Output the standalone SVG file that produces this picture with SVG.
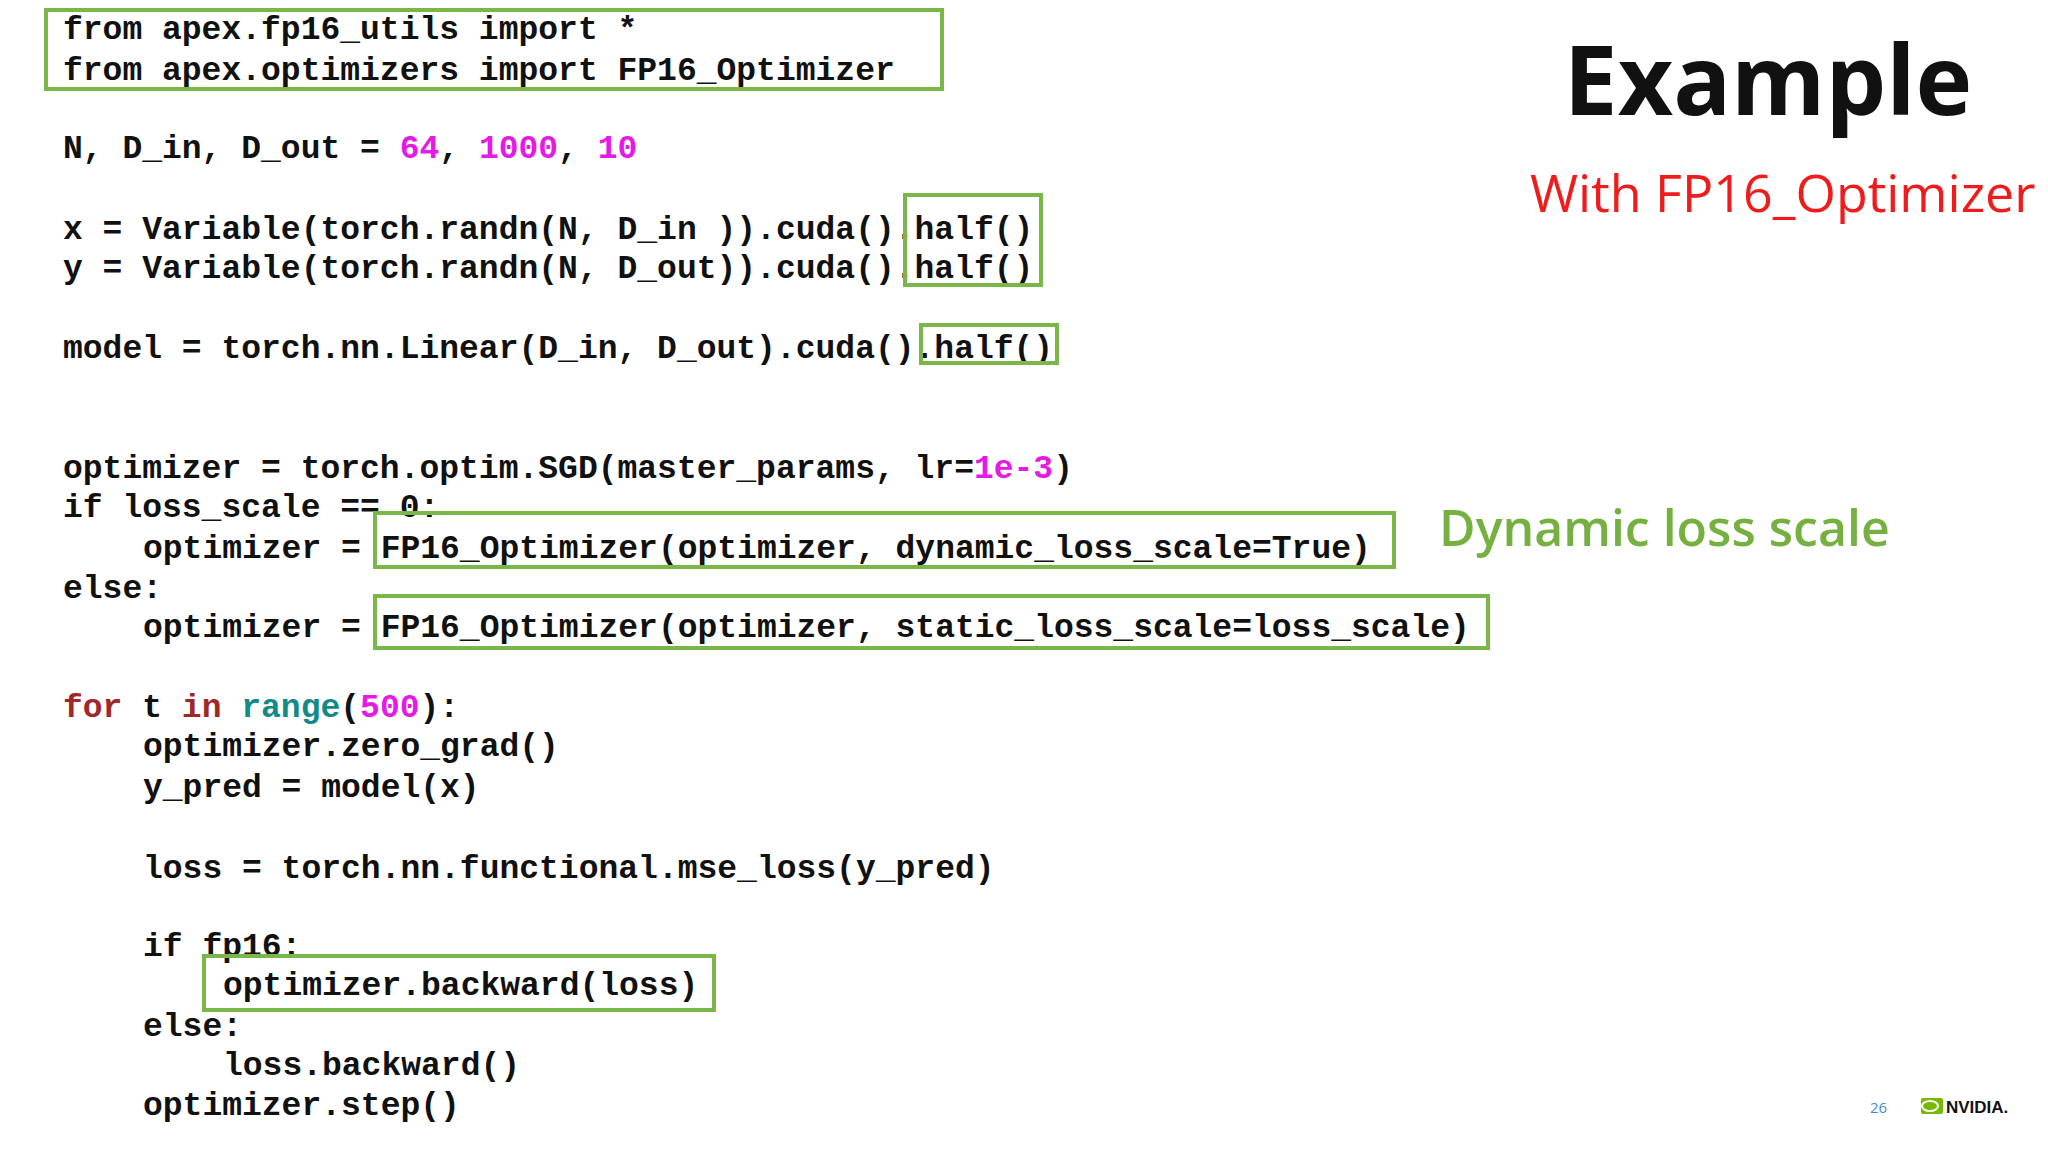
<svg xmlns="http://www.w3.org/2000/svg" width="2048" height="1152" viewBox="0 0 2048 1152">
<style>
.c{font-family:"Liberation Mono","Courier New",monospace;font-weight:bold;font-size:33px;fill:#111}
.n{fill:#e619e6}.k{fill:#a0282a}.t{fill:#138a8a}
.b{fill:none;stroke:#7ab648;stroke-width:4}
</style>
<rect width="2048" height="1152" fill="#fff"/>
<g id="code">
<text class="c" x="63" y="39">from apex.fp16_utils import *</text>
<text class="c" x="63" y="80">from apex.optimizers import FP16_Optimizer</text>
<text class="c" x="63" y="158">N, D_in, D_out = <tspan class="n">64</tspan>, <tspan class="n">1000</tspan>, <tspan class="n">10</tspan></text>
<text class="c" x="63" y="239">x = Variable(torch.randn(N, D_in )).cuda().half()</text>
<text class="c" x="63" y="278">y = Variable(torch.randn(N, D_out)).cuda().half()</text>
<text class="c" x="63" y="358">model = torch.nn.Linear(D_in, D_out).cuda().half()</text>
<text class="c" x="63" y="478">optimizer = torch.optim.SGD(master_params, lr=<tspan class="n">1e-3</tspan>)</text>
<text class="c" x="63" y="517">if loss_scale == 0:</text>
<text class="c" x="143" y="558">optimizer = FP16_Optimizer(optimizer, dynamic_loss_scale=True)</text>
<text class="c" x="63" y="598">else:</text>
<text class="c" x="143" y="637">optimizer = FP16_Optimizer(optimizer, static_loss_scale=loss_scale)</text>
<text class="c" x="63" y="717"><tspan class="k">for</tspan> t <tspan class="k">in</tspan> <tspan class="t">range</tspan>(<tspan class="n">500</tspan>):</text>
<text class="c" x="143" y="756">optimizer.zero_grad()</text>
<text class="c" x="143" y="797">y_pred = model(x)</text>
<text class="c" x="143" y="878">loss = torch.nn.functional.mse_loss(y_pred)</text>
<text class="c" x="143" y="956">if fp16:</text>
<text class="c" x="223" y="995">optimizer.backward(loss)</text>
<text class="c" x="143" y="1036">else:</text>
<text class="c" x="223" y="1075">loss.backward()</text>
<text class="c" x="143" y="1115">optimizer.step()</text>
</g>
<g id="boxes">
<rect class="b" x="46" y="10" width="896" height="79"/>
<rect class="b" x="905" y="195" width="136" height="90"/>
<rect class="b" x="921" y="325" width="136" height="38"/>
<rect class="b" x="375" y="513" width="1019" height="54"/>
<rect class="b" x="375" y="596" width="1113" height="52"/>
<rect class="b" x="204" y="956" width="510" height="54"/>
</g>
<g id="titles" font-family="'Open Sans','Noto Sans',sans-serif">
<text x="1768" y="115" text-anchor="middle" font-size="96" font-weight="bold" fill="#111">Example</text>
<text x="1530" y="212" font-size="52" fill="#ee1c1c">With FP16_Optimizer</text>
<text x="1439" y="546" font-size="50" font-weight="600" fill="#76b041">Dynamic loss scale</text>
<text x="1870" y="1113" font-size="15" fill="#4a8ad0">26</text>
</g>
<g id="logo">
<rect x="1921" y="1098" width="22" height="16" rx="2" fill="#76b900"/>
<ellipse cx="1930" cy="1106" rx="8" ry="5" fill="none" stroke="#fff" stroke-width="2"/>
<text x="1946" y="1113" font-family="'Liberation Sans',sans-serif" font-weight="bold" font-size="17" fill="#111">NVIDIA.</text>
</g>
</svg>
